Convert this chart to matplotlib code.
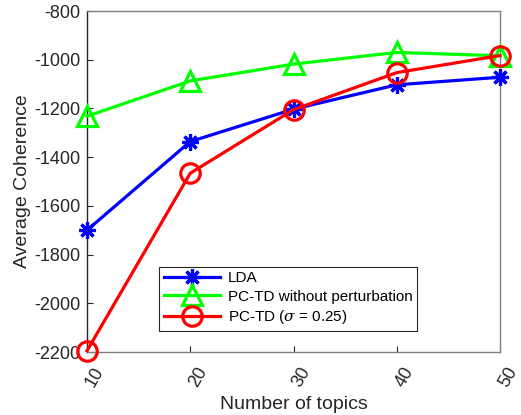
import matplotlib
matplotlib.use("Agg")
import matplotlib.pyplot as plt
import matplotlib.transforms as mtransforms

plt.rcParams['font.family'] = ['Liberation Sans', 'DejaVu Sans']
plt.rcParams['mathtext.fontset'] = 'dejavuserif'
plt.rcParams['axes.unicode_minus'] = False

topics = [10, 20, 30, 40, 50]
lda = [-1700, -1336, -1203, -1103, -1072]
pctd_noperturb = [-1232, -1087, -1018, -970, -984]
pctd_sigma = [-2195, -1466, -1205, -1053, -983]
yticks = list(range(-2200, -799, 200))

fig = plt.figure(figsize=(5.21, 4.15), dpi=100)
ax = fig.add_axes([87/521, 63/415, (500-87)/521, (352-11)/415])

lw = 2.3
ax.plot(topics, lda, color=(0, 0, 1), lw=lw, marker=(8, 2, 0), markersize=12,
        markeredgewidth=2.3, label='LDA', clip_on=False, zorder=3)
ax.plot(topics, pctd_noperturb, color=(0, 1, 0), lw=lw, marker='^', markersize=14,
        markerfacecolor='none', markeredgewidth=2.3,
        label='PC-TD without perturbation', clip_on=False, zorder=3)
ax.plot(topics, pctd_sigma, color=(1, 0, 0), lw=lw, marker='o', markersize=14,
        markerfacecolor='none', markeredgewidth=2.3,
        label=r'PC-TD ($\sigma$ = 0.25)', clip_on=False, zorder=4)

ax.set_xlim(10, 50)
ax.set_ylim(-2200, -800)
ax.set_xticks(topics)
ax.set_yticks(yticks)

axcol = '#262626'
for s in ax.spines.values():
    s.set_color('#808080')
    s.set_linewidth(1.0)
ax.spines['left'].set_color(axcol)
ax.tick_params(direction='in', length=4, colors=axcol, labelsize=13, width=0.8)
ax.tick_params(axis='x', pad=9)
ax.tick_params(axis='y', pad=5)

offset = mtransforms.ScaledTranslation(8/100, 0, fig.dpi_scale_trans)
for lab in ax.get_xticklabels():
    lab.set_rotation(60)
    lab.set_ha('center')
    lab.set_va('top')
    lab.set_transform(lab.get_transform() + offset)

ax.set_xlabel('Number of topics', fontsize=14, color=axcol, labelpad=4)
ax.set_ylabel('Average Coherence', fontsize=14, color=axcol, labelpad=2)

leg = ax.legend(loc='lower left', bbox_to_anchor=((159-87)/413, (352-331)/341),
                fontsize=11, frameon=True, fancybox=False, framealpha=1,
                edgecolor='#262626', handlelength=3.7, borderpad=0.3,
                labelspacing=0.3, handletextpad=0.5, borderaxespad=0)
leg.get_frame().set_linewidth(0.8)

fig.savefig('out.png', dpi=100)
